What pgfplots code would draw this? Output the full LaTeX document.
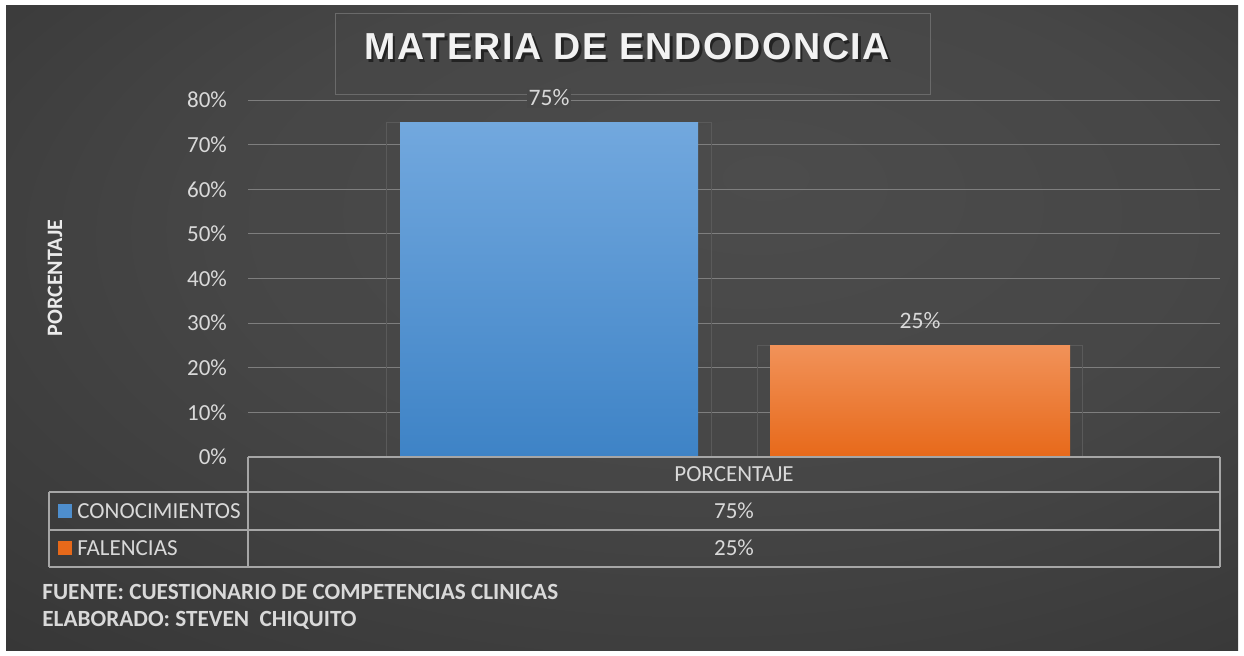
\documentclass[border=0pt]{standalone}
\usepackage{pgfplots}
\pgfplotsset{compat=1.18}
\usepackage{fontspec}
\setmainfont{Carlito}
\newfontfamily\titlefont[LetterSpace=4]{Liberation Sans}
\definecolor{bgin}{HTML}{4C4C4C}
\definecolor{bgout}{HTML}{262626}
\definecolor{blueT}{HTML}{72A8DE}
\definecolor{blueB}{HTML}{3E83C6}
\definecolor{orT}{HTML}{F19259}
\definecolor{orB}{HTML}{E7691A}
\definecolor{txt}{HTML}{D9D9D9}
\definecolor{gridc}{HTML}{7E7E7E}
\definecolor{tabc}{HTML}{A6A6A6}
\definecolor{lblbg}{HTML}{474747}
\definecolor{boxc}{HTML}{6A6A6A}
\definecolor{shadc}{HTML}{5A5A5A}
\pgfdeclareradialshading{bgshade}{\pgfpoint{6bp}{12bp}}{color(0bp)=(bgin); color(20bp)=(bgin!85!bgout); color(62bp)=(bgout)}
\begin{document}
\begin{tikzpicture}[x=0.5pt,y=0.5pt]
\fill[white] (0,0) rectangle (1244,655);
\shade[shading=bgshade] (6,5) rectangle (1238,649);
% title box
\draw[draw=boxc, line width=0.5pt] (335,641) rectangle (930,560);
\node[font=\titlefont\bfseries\fontsize{18.8}{20}\selectfont, text=black, opacity=0.5] at (629.5,605.5) {MATERIA DE ENDODONCIA};
\node[font=\titlefont\bfseries\fontsize{18.8}{20}\selectfont, text=white!95!black] at (627,608) {MATERIA DE ENDODONCIA};
\begin{scope}[shift={(124pt,99pt)}]
\begin{axis}[
  scale only axis,
  width=486pt, height=178.5pt,
  xmin=248, xmax=1220, ymin=0, ymax=80,
  axis line style={draw=none},
  ytick={0,10,...,80}, xtick=\empty,
  ymajorgrids, grid style={gridc, line width=0.5pt},
  major tick length=0pt,
  yticklabel={\pgfmathprintnumber{\tick}\%},
  yticklabel style={font=\fontsize{11.5}{13}\selectfont, text=txt, xshift=-7pt},
  /pgf/number format/assume math mode=true,
  clip=false,
]
\addplot[ybar, bar width=162.5pt, bar shift=0pt, draw=shadc, fill=none, line width=0.5pt] coordinates {(549,75)};
\addplot[ybar, bar width=162.5pt, bar shift=0pt, draw=shadc, fill=none, line width=0.5pt] coordinates {(920,25)};
\addplot[ybar, bar width=149pt, bar shift=0pt, draw=none, top color=blueT, bottom color=blueB,
  nodes near coords={\pgfmathprintnumber{\pgfplotspointmeta}\%},
  every node near coord/.append style={font=\fontsize{11.8}{14}\selectfont, text=txt, fill=lblbg, inner sep=1pt, yshift=7pt}]
  coordinates {(549,75)};
\addplot[ybar, bar width=150pt, bar shift=0pt, draw=none, top color=orT, bottom color=orB,
  nodes near coords={\pgfmathprintnumber{\pgfplotspointmeta}\%},
  every node near coord/.append style={font=\fontsize{11.8}{14}\selectfont, text=txt, inner sep=1pt, yshift=7pt}]
  coordinates {(920,25)};
\end{axis}
\end{scope}
% y axis label
\node[rotate=90, font=\bfseries\fontsize{11}{13}\selectfont, text=white!92!black] at (55,377) {PORCENTAJE};
% data table
\begin{scope}[draw=tabc, line width=1pt]
\draw (248,198) -- (1220,198);
\draw (49,163) -- (1220,163);
\draw (49,125) -- (1220,125);
\draw (49,88) -- (1220,88);
\draw (248,198) -- (248,88);
\draw (1220,198) -- (1220,88);
\draw (49,163) -- (49,88);
\end{scope}
\node[font=\fontsize{11.5}{13}\selectfont, text=txt] at (734,181) {PORCENTAJE};
\fill[blueB!70!blueT] (58,137) rectangle (72,151);
\fill[orB] (58,100) rectangle (72,114);
\node[anchor=west, inner sep=0pt, font=\fontsize{11.5}{13}\selectfont, text=txt] at (77,144) {CONOCIMIENTOS};
\node[anchor=west, inner sep=0pt, font=\fontsize{11.5}{13}\selectfont, text=txt] at (77,107) {FALENCIAS};
\node[font=\fontsize{11.5}{13}\selectfont, text=txt] at (734,144) {75\%};
\node[font=\fontsize{11.5}{13}\selectfont, text=txt] at (734,107) {25\%};
% footnotes
\node[anchor=west, inner sep=0pt, font=\bfseries\fontsize{11.6}{13}\selectfont, text=txt] at (42,63) {FUENTE: CUESTIONARIO DE COMPETENCIAS CLINICAS};
\node[anchor=west, inner sep=0pt, font=\bfseries\fontsize{11.6}{13}\selectfont, text=txt] at (42,35) {ELABORADO: STEVEN\ \ CHIQUITO};
\pgfresetboundingbox
\useasboundingbox (0,0) rectangle (1244,655);
\end{tikzpicture}
\end{document}
